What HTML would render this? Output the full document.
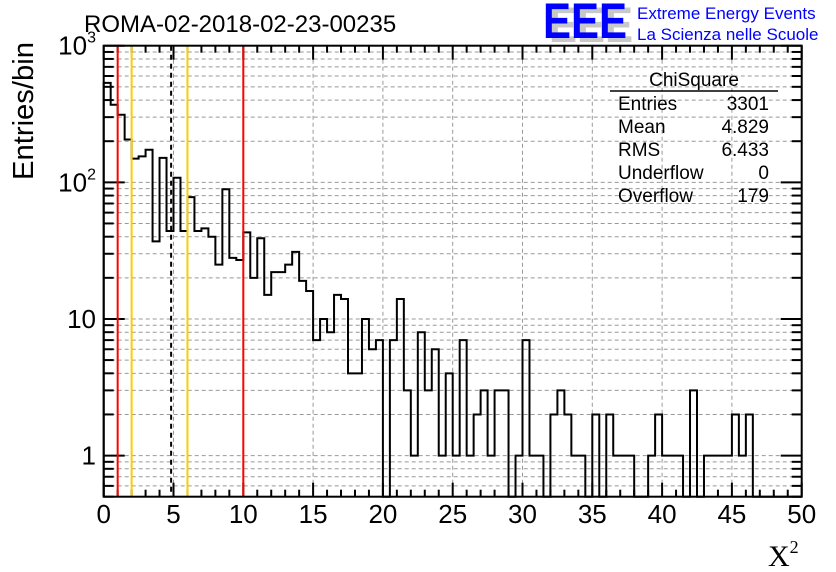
<!DOCTYPE html>
<html><head><meta charset="utf-8"><style>
html,body{margin:0;padding:0;background:#fff;}
svg{display:block;font-family:"Liberation Sans",sans-serif;}
</style></head><body>
<svg id="chart" width="836" height="572" viewBox="0 0 836 572" xmlns="http://www.w3.org/2000/svg">
<rect width="836" height="572" fill="#fff"/>
<g id="grid"></g>
<g id="ticks"></g>
<g id="hist"></g>
<g id="vlines"></g>
<rect x="103.7" y="45.7" width="698" height="451" fill="none" stroke="#000" stroke-width="2"/>
<text x="84" y="32" font-size="24" fill="#000">ROMA-02-2018-02-23-00235</text>
<text transform="translate(33,180) rotate(-90)" font-size="29" text-anchor="start" fill="#000" textLength="138" lengthAdjust="spacingAndGlyphs">Entries/bin</text>
<text x="768" y="566" font-size="30" font-family="Liberation Serif,serif" fill="#000">X<tspan font-size="18" dy="-13">2</tspan></text>
<g>
<text x="549" y="42" font-size="50" font-weight="bold" fill="#c8c8c8" textLength="84" lengthAdjust="spacingAndGlyphs">EEE</text>
<text x="543" y="38" font-size="50" font-weight="bold" fill="#0000ff" textLength="84" lengthAdjust="spacingAndGlyphs">EEE</text>
<text x="637" y="19" font-size="17" fill="#0000ff">Extreme Energy Events</text>
<text x="637" y="40" font-size="17" fill="#0000ff">La Scienza nelle Scuole</text>
</g>
<g font-size="19" fill="#000">
<text x="694" y="86" text-anchor="middle">ChiSquare</text>
<line x1="610" y1="91" x2="778" y2="91" stroke="#000" stroke-width="1.5"/>
<text x="618" y="110">Entries</text><text x="769" y="110" text-anchor="end">3301</text>
<text x="618" y="133">Mean</text><text x="769" y="133" text-anchor="end">4.829</text>
<text x="618" y="156">RMS</text><text x="769" y="156" text-anchor="end">6.433</text>
<text x="618" y="179">Underflow</text><text x="769" y="179" text-anchor="end">0</text>
<text x="618" y="202">Overflow</text><text x="769" y="202" text-anchor="end">179</text>
</g>
<g id="labels"></g>
</svg>
<script>
const binEdgesStart = 0;
const binWidth = 0.5;
const counts = [535,370,312,206,149,155,173,37,151,44,
108,44,78,44,46,40,25,89,28,27,
43,20,39,15,22,22,25,31,19,16,
7,10,8,15,14,4,4,10,6,7,
0,7,14,3,1,8,3,6,1,4,
1,7,1,2,3,1,3,3,0,1,
7,1,1,0,2,3,2,1,1,0,
2,0,2,1,1,1,0,0,1,2,
1,1,1,0,3,0,1,1,1,1,
2,1,2,0,0,0,0,0,0,0];
const xTicks = [0,5,10,15,20,25,30,35,40,45,50];
const yDecades = [1,10,100,1000];
const refLines = [1,10];
const sigmaLines = [2,6];
const meanValue = 4.829;

const NS='http://www.w3.org/2000/svg';
const X0=103.7, XW=698, XMIN=0, XMAX=50;
const YT=45.7, YB=496.7, LMIN=Math.log10(0.5), LMAX=3;
const sx=v=>X0+(v-XMIN)/(XMAX-XMIN)*XW;
const sy=v=>YB-(Math.log10(Math.max(v,0.5))-LMIN)/(LMAX-LMIN)*(YB-YT);
function mk(tag,attrs,parent){const e=document.createElementNS(NS,tag);for(const k in attrs)e.setAttribute(k,attrs[k]);parent.appendChild(e);return e;}
const grid=document.getElementById('grid'),ticks=document.getElementById('ticks'),hist=document.getElementById('hist'),vl=document.getElementById('vlines'),labels=document.getElementById('labels');

const yvals=[];
for(let m=5;m<=9;m++)yvals.push([m*0.1,false]);
for(const d of yDecades.slice(0,3)){for(let m=1;m<=9;m++)yvals.push([m*d,m===1]);}
yvals.push([1000,true]);
for(const [v,maj] of yvals){
  const y=sy(v);
  if(y<YT-0.5||y>YB+0.5)continue;
  const g=mk('line',{x1:X0,x2:X0+XW,y1:y,y2:y,stroke:'#999','stroke-dasharray':'4,3','stroke-width':1},grid);
  
  
  const len=maj?21:10;
  const t1=mk('line',{x1:X0,x2:X0+len,y1:y,y2:y,stroke:'#000','stroke-width':2},ticks);
  
  
  const t2=mk('line',{x1:X0+XW-len,x2:X0+XW,y1:y,y2:y,stroke:'#000','stroke-width':2},ticks);
  
  
}
for(const d of yDecades){
  const y=sy(d);
  const t=mk('text',{x:96,y:y+9,'font-size':26,'text-anchor':'end',fill:'#000'},labels);
  
  
  if(d===1)t.textContent='1';
  else if(d===10)t.textContent='10';
  else{const p=Math.log10(d);t.textContent='10';const s=mk('tspan',{'font-size':16,dy:-12},t);s.textContent=String(p);}
}
for(let v=XMIN;v<=XMAX;v+=1){
  const x=sx(v),maj=(v%5===0);
  if(maj&&v>XMIN&&v<XMAX){
    const g=mk('line',{x1:x,x2:x,y1:YT,y2:YB,stroke:'#999','stroke-dasharray':'4,3','stroke-width':1},grid);
    
    
  }
  const len=maj?14:7;
  const a=mk('line',{x1:x,x2:x,y1:YB-len,y2:YB,stroke:'#000','stroke-width':2},ticks);
  
  
  const b=mk('line',{x1:x,x2:x,y1:YT,y2:YT+len,stroke:'#000','stroke-width':2},ticks);
  
  
}
for(const v of xTicks){
  const t=mk('text',{x:sx(v),y:523,'font-size':26,'text-anchor':'middle',fill:'#000'},labels);
  
  
  t.textContent=String(v);
}
let d='M'+sx(binEdgesStart)+','+YB;
counts.forEach((c,i)=>{
  const xa=sx(binEdgesStart+i*binWidth),xb=sx(binEdgesStart+(i+1)*binWidth),y=sy(c);
  d+=' L'+xa+','+y+' L'+xb+','+y;
});
d+=' L'+sx(binEdgesStart+counts.length*binWidth)+','+YB;
const p=mk('path',{d:d,fill:'none',stroke:'#000','stroke-width':2},hist);


for(const v of refLines){
  const l=mk('line',{x1:sx(v),x2:sx(v),y1:YT,y2:YB,stroke:'#ff0000','stroke-width':2},vl);
  
  
}
for(const v of sigmaLines){
  const l=mk('line',{x1:sx(v),x2:sx(v),y1:YT,y2:YB,stroke:'#ffcc00','stroke-width':2},vl);
  
  
}
const ml=mk('line',{x1:sx(meanValue),x2:sx(meanValue),y1:YT,y2:YB,stroke:'#000','stroke-width':2,'stroke-dasharray':'5,4'},vl);


</script>
</body></html>
